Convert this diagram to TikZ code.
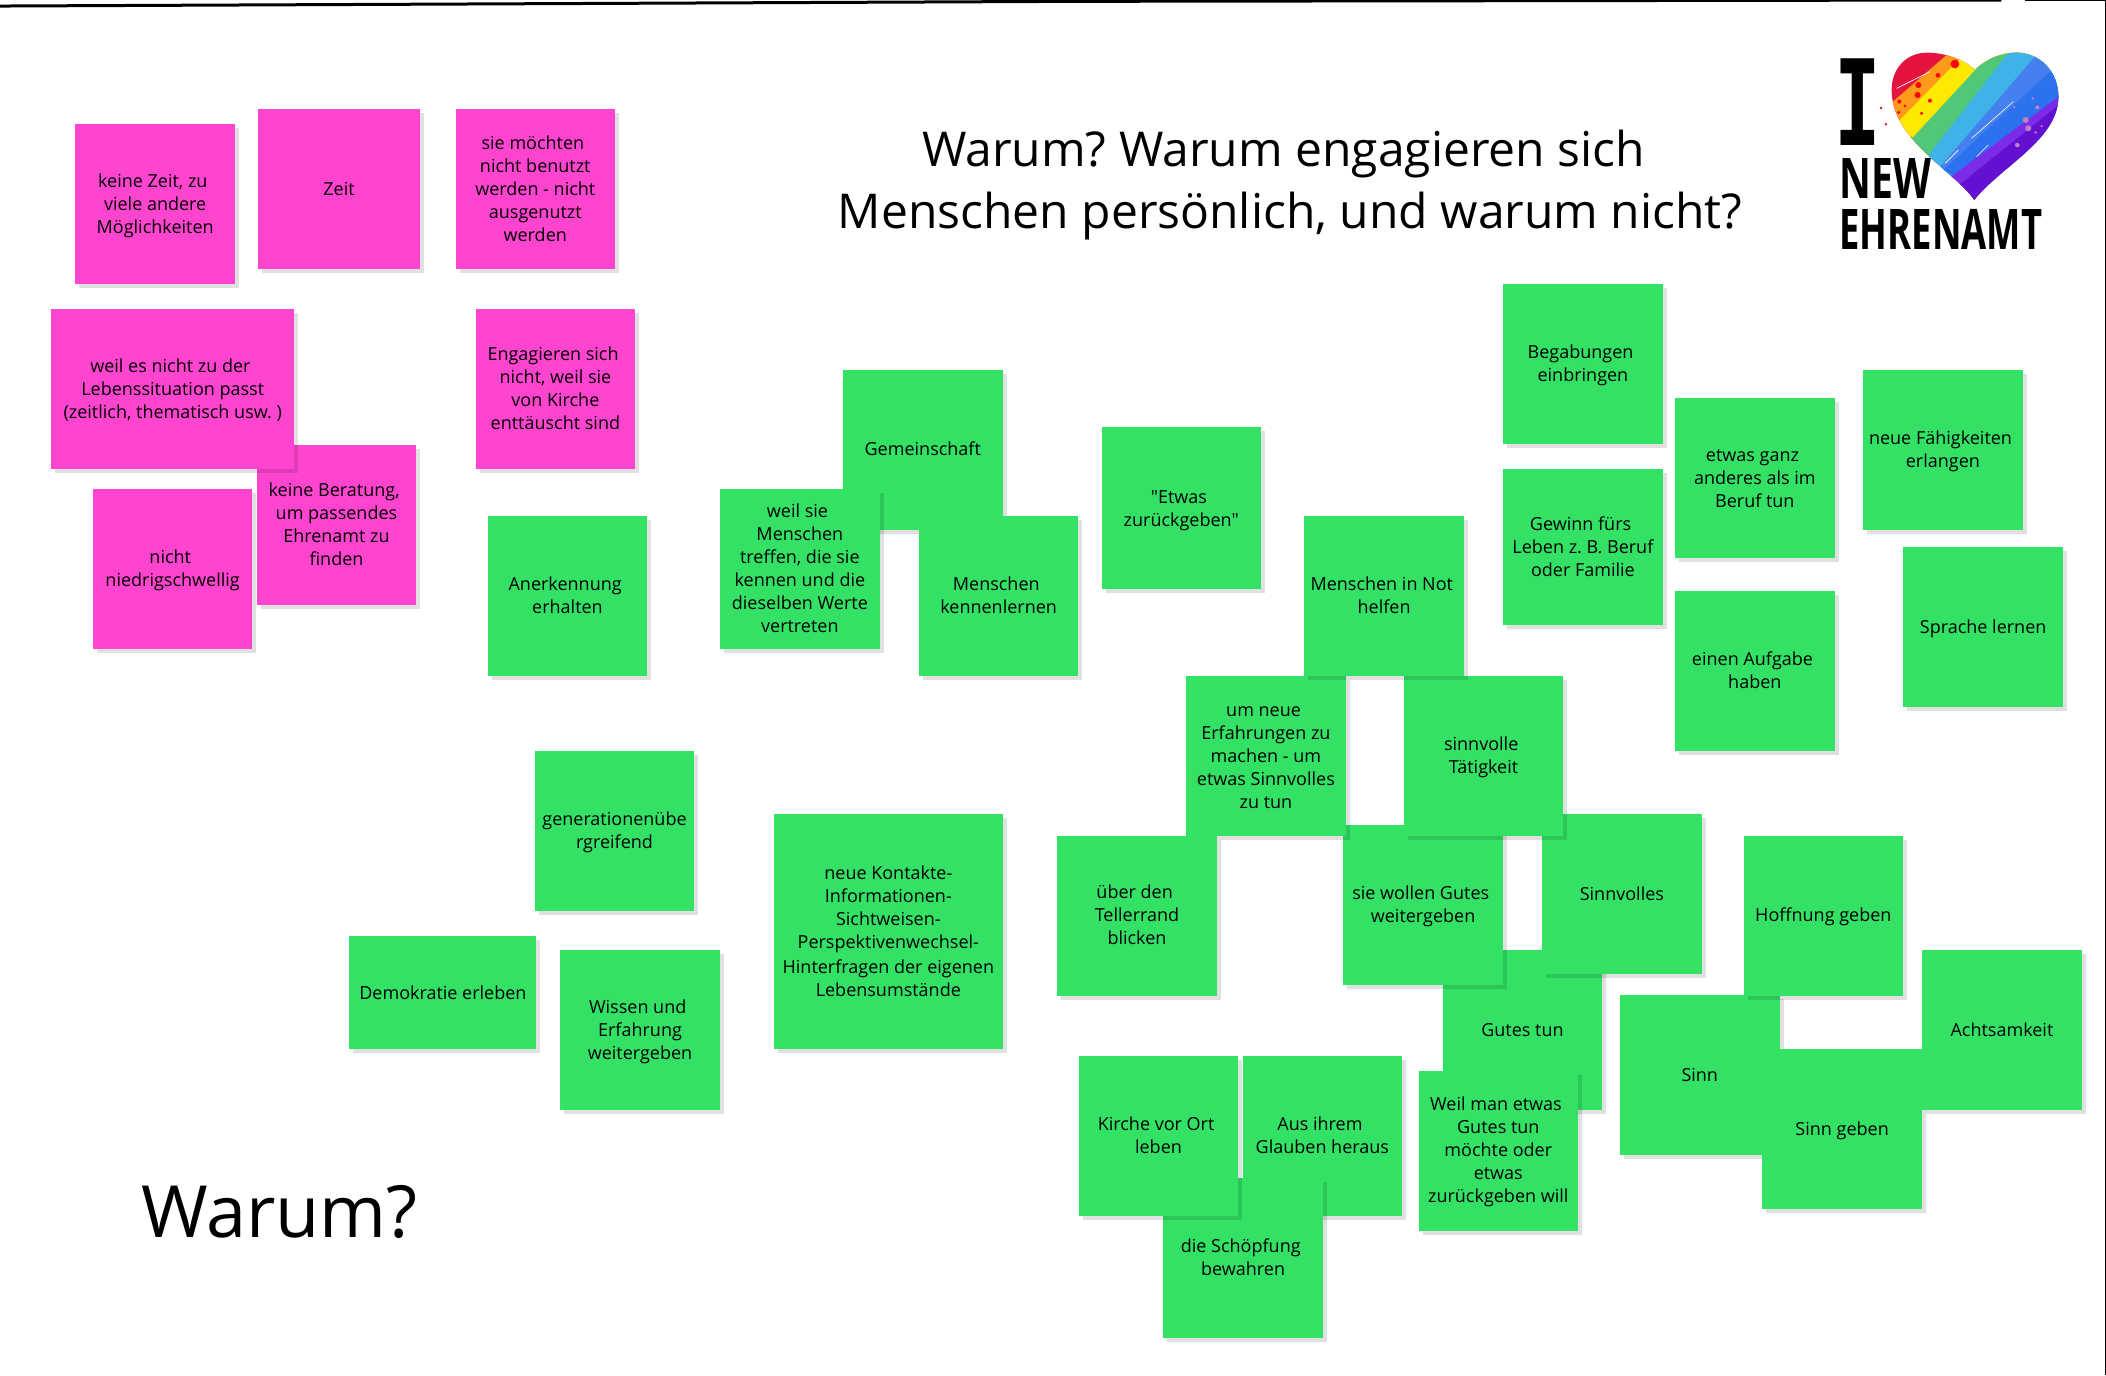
\documentclass[tikz,border=0pt]{standalone}
\usepackage{fontspec}
\usepackage{graphicx}
\setmainfont{Open Sans}
\newfontfamily\plainq{Open Sans}
\newfontfamily\logomono{DejaVu Sans Mono}
\usetikzlibrary{shadows}
\definecolor{notegreen}{HTML}{33E265}
\definecolor{notepink}{HTML}{FF45D0}
\newif\iffirstline
\newcommand{\wl}{\iffirstline\rule{0pt}{19.5pt}\global\firstlinefalse\fi\hspace*{4.7pt}\\}
\begin{document}
\frenchspacing
\begin{tikzpicture}[x=1.343pt, y=-1.343pt]
    \tikzstyle{note} = [rectangle, anchor=north west, inner sep=0pt, align=center, minimum width=159.5pt, minimum height=160pt, font=\fontsize{18}{23}\selectfont, execute at begin node={\global\firstlinetrue\rule{0pt}{19.5pt}}, execute at end node=\strut, drop shadow={shadow xshift=4pt, shadow yshift=-4pt, fill=black, opacity=0.12}]
    \tikzstyle{pnote} = [note, fill=notepink]
    \tikzstyle{gnote} = [note, fill=notegreen]
    \useasboundingbox (0,0) rectangle (1568,1023.8);

    \draw [line width=3pt, line cap=butt] (0,4.5) -- (800,1) -- (1490,0);
    \draw [line width=1.5pt] (1508,0) -- (1568,0) -- (1568,1023.8);

    \node [font=\fontsize{48}{62}\selectfont, align=center] (title) at (960.5,138) {Warum? Warum engagieren sich\hspace*{13pt}\\Menschen persönlich, und warum nicht?};
    \node [font=\fontsize{72}{90}\selectfont] (warum) at (208,902) {Warum?};

    \node [pnote] (zeitviele) at (56,92) {keine Zeit, zu\wl viele andere\wl Möglichkeiten};
    \node [pnote, minimum width=162pt] (zeit) at (192,81) {Zeit};
    \node [pnote] (benutzt) at (339,81) {sie möchten\wl nicht benutzt\wl werden - nicht\wl ausgenutzt\wl werden};
    \node [pnote] (beratung) at (191,331) {keine Beratung,\wl um passendes\wl Ehrenamt zu\wl finden};
    \node [pnote, minimum width=243pt] (leben) at (38,230) {weil es nicht zu der\wl Lebenssituation passt\wl (zeitlich, thematisch usw. )};
    \node [pnote] (schwelle) at (69,364) {nicht\wl niedrigschwellig};
    \node [pnote] (enttaeuscht) at (354,230) {Engagieren sich\wl nicht, weil sie\wl von Kirche\wl enttäuscht sind};

    \node [gnote] (anerkennung) at (363,384) {Anerkennung\wl erhalten};
    \node [gnote] (gemeinschaft) at (627.5,275) {Gemeinschaft};
    \node [gnote] (werte) at (536,364) {weil sie\wl Menschen\wl treffen, die sie\wl kennen und die\wl dieselben Werte\wl vertreten};
    \node [gnote] (kennen) at (684,384) {Menschen\wl kennenlernen};
    \node [gnote, minimum height=162pt] (zurueck) at (820,318) {{\plainq"}Etwas\wl zurückgeben{\plainq"}};
    \node [gnote] (begabung) at (1119,211) {Begabungen\wl einbringen};
    \node [gnote, minimum height=156pt] (gewinn) at (1119,349) {Gewinn fürs\wl Leben z. B. Beruf\wl oder Familie};
    \node [gnote] (beruf) at (1247,296) {etwas ganz\wl anderes als im\wl Beruf tun};
    \node [gnote] (faehig) at (1387,275) {neue Fähigkeiten\wl erlangen};
    \node [gnote] (aufgabe) at (1247,440) {einen Aufgabe\wl haben};
    \node [gnote] (sprache) at (1417,407) {Sprache lernen};

    \node [gnote] (gutes) at (1074,707) {Gutes tun};
    \node [gnote] (sinnvolles) at (1148,606) {Sinnvolles};
    \node [gnote] (weiter) at (1000,614) {sie wollen Gutes\wl weitergeben};
    \node [gnote] (erfahrung) at (883,503) {um neue\wl Erfahrungen zu\wl machen - um\wl etwas Sinnvolles\wl zu tun};
    \node [gnote] (teller) at (787,622) {über den\wl Tellerrand\wl blicken};
    \node [gnote] (taetig) at (1045,503) {sinnvolle\wl Tätigkeit};
    \node [gnote] (not) at (971,384) {Menschen in Not\wl helfen};

    \node [gnote] (sinn) at (1206,741) {Sinn};
    \node [gnote] (hoffnung) at (1298,622) {Hoffnung geben};
    \node [gnote] (sinngeben) at (1312,781) {Sinn geben};
    \node [gnote] (achtsam) at (1431,707) {Achtsamkeit};

    \node [gnote] (generation) at (398,559) {\rule{0pt}{19.5pt}generationenübe\\rgreifend};
    \node [gnote, minimum width=229pt, minimum height=235pt] (kontakte) at (576,606) {\rule{0pt}{19.5pt}neue Kontakte-\\Informationen-\\Sichtweisen-\\Perspektivenwechsel-\\Hinterfragen der eigenen\wl Lebensumstände};
    \node [gnote, minimum width=187pt, minimum height=113pt] (demokratie) at (260,697) {Demokratie erleben};
    \node [gnote] (wissen) at (417,707) {Wissen und\wl Erfahrung\wl weitergeben};

    \node [gnote] (glauben) at (925,786) {Aus ihrem\wl Glauben heraus};
    \node [gnote] (schoepfung) at (866,877) {die Schöpfung\wl bewahren};
    \node [gnote] (ort) at (803,786) {Kirche vor Ort\wl leben};
    \node [gnote] (etwas) at (1056,797) {Weil man etwas\wl Gutes tun\wl möchte oder\wl etwas\wl zurückgeben will};

    % logo
    \begin{scope}[x=0.3333pt, y=-0.3333pt, shift={(5340,0)}]
        \tikzstyle{logotext} = [anchor=west, inner sep=0pt, font=\bfseries\fontsize{56}{56}\selectfont]
        \node [font=\logomono\bfseries\fontsize{119}{119}\selectfont] (logoi) at (232,305) {\scalebox{0.65}[1]{I}};
        \node [logotext] (lognew) at (178,535) {\scalebox{0.70}[1]{NEW}};
        \node [logotext] (logehren) at (178,688) {\scalebox{0.65}[1]{EHRENAMT}};
        \begin{scope}
            \clip (583,600) .. controls (520,510) and (335,420) .. (335,270) .. controls (335,200) and (385,158) .. (440,158) .. controls (505,158) and (560,185) .. (585,210) .. controls (620,175) and (665,158) .. (710,158) .. controls (780,158) and (835,215) .. (835,290) .. controls (835,420) and (660,500) .. (583,600) -- cycle;
            \fill [fill={rgb,255:red,229;green,19;blue,63}] (300,100) rectangle (900,650);
            \foreach \ta/\tb/\la/\lb/\col in {540/130/310/330/FF9A1A, 585/130/340/380/FFE900, 660/130/350/465/50C878, 708/130/430/485/3FB3E8, 799/130/470/513/4480EE, 880/150/490/510/2C72F0, 880/257/500/540/7A2CE6, 880/280/510/577/6410D0}{
                \definecolor{stripe}{HTML}{\col}
                \fill [stripe] (\ta,\tb) -- (\la,\lb) -- (900,700) -- (900,\tb) -- cycle;
            }
            \draw [white, line width=0.7pt] (350,265) -- (450,215);
            \draw [white, line width=0.7pt] (495,490) -- (535,450);
            \draw [white, line width=0.6pt] (575,415) -- (700,305);
            \draw [white, line width=0.6pt] (590,470) -- (625,435);
        \end{scope}
        \foreach \px/\py/\pr in {525/192/13, 415/255/9, 413/285/9, 474/226/7, 450/302/6, 358/305/6, 375/318/4, 425/340/5, 356/337/5, 303/324/4, 318/373/4}
            \fill [red] (\px,\py) circle (\pr);
        \foreach \px/\py/\pr in {737/360/9, 745/385/9, 712/435/7, 772/322/6, 703/322/4, 758/295/4, 785/378/4, 767/397/4}
            \fill [violet!50!white] (\px,\py) circle (\pr);
    \end{scope}
\end{tikzpicture}
\end{document}
